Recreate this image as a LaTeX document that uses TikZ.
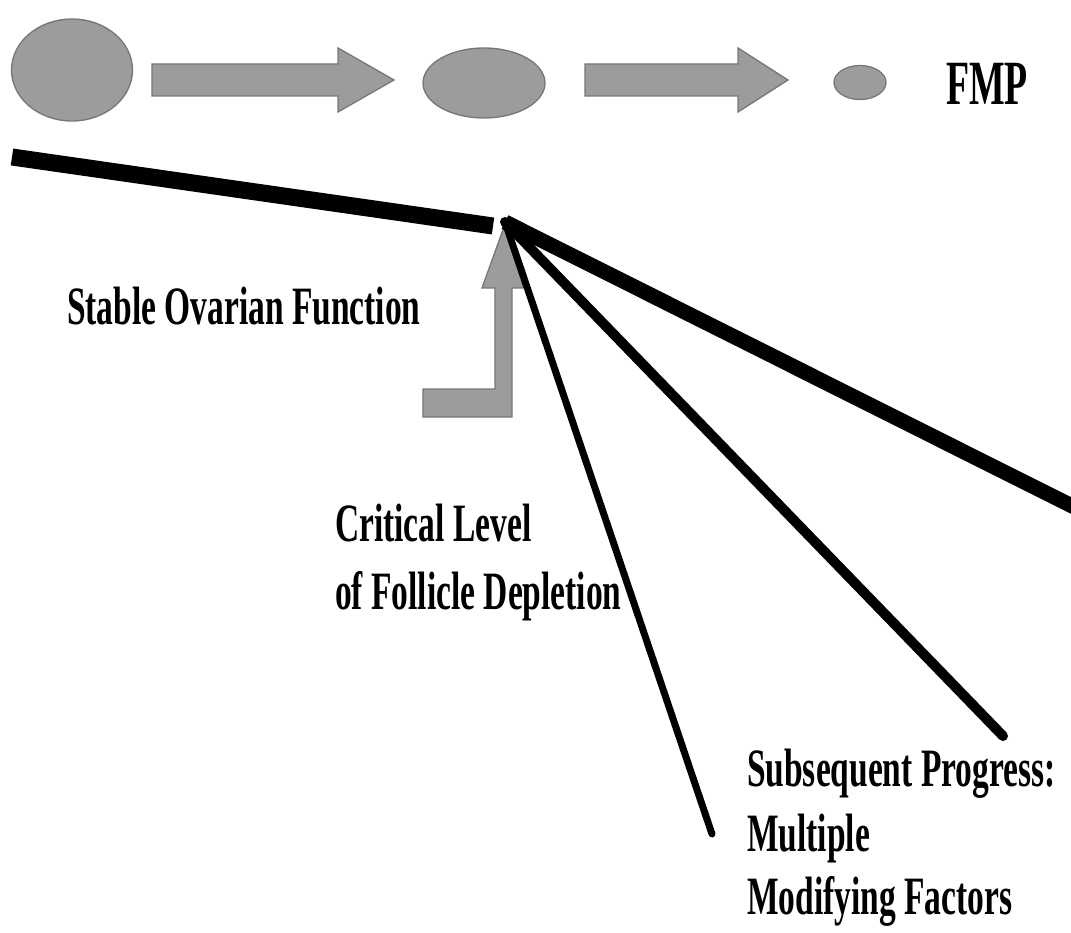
\documentclass[tikz,border=0pt]{standalone}
\usepackage{fontspec}
\setmainfont{Liberation Serif}
\definecolor{shapegray}{RGB}{156,156,156}
\definecolor{shapeedge}{RGB}{118,118,118}
\begin{document}
\begin{tikzpicture}[x=1pt,y=-1pt,
  shapefill/.style={fill=shapegray, draw=shapeedge, line width=1.3pt, line join=miter},
  lbl/.style={font=\fontsize{54}{60}\selectfont\bfseries, xscale=0.62, anchor=base west, inner sep=0pt},
  bigtxt/.style={font=\fontsize{63}{70}\selectfont\bfseries, xscale=0.6, anchor=base west, inner sep=0pt},
  heavyline/.style={line width=17pt},
  fanthick/.style={line width=15pt},
  fanmid/.style={line width=10pt, line cap=round},
  fanthin/.style={line width=7pt, line cap=round}]
\useasboundingbox (0,0) rectangle (1071,933);
% top row
\path[shapefill] (72,70) ellipse [x radius=60.5pt, y radius=51pt];
\path[shapefill] (152,64) -- (338,64) -- (338,48) -- (394,80) -- (338,112) -- (338,96) -- (152,96) -- cycle;
\path[shapefill] (484,83) ellipse [x radius=61pt, y radius=35pt];
\path[shapefill] (585,64) -- (738,64) -- (738,48) -- (788,80) -- (738,112) -- (738,96) -- (585,96) -- cycle;
\path[shapefill] (860,82.5) ellipse [x radius=26pt, y radius=17pt];
\node[bigtxt] (fmp) at (946,105) {FMP};
% bent arrow
\path[shapefill] (423,389) -- (495,389) -- (495,288) -- (482,288) -- (504,227) -- (524,288) -- (512,288) -- (512,417) -- (423,417) -- cycle;
% lines
\coordinate (l0a) at (12,157);
\coordinate (l0b) at (493,226);
\coordinate (apex) at (505,222);
\coordinate (e1) at (1090,515);
\coordinate (e2) at (1003,736);
\coordinate (e3) at (712,834);
\draw[heavyline] (l0a) -- (l0b);
\draw[fanthick] (apex) -- (e1);
\draw[fanmid] (apex) -- (e2);
\draw[fanthin] (apex) -- (e3);
% labels
\node[lbl] (stable) at (67,325) {Stable Ovarian Function};
\node[lbl] (crit1) at (335,541) {Critical Level};
\node[lbl] (crit2) at (335,609) {of Follicle Depletion};
\node[lbl] (sub1) at (747,786) {Subsequent Progress:};
\node[lbl] (sub2) at (747,851) {Multiple};
\node[lbl] (sub3) at (747,914) {Modifying Factors};
\end{tikzpicture}
\end{document}
